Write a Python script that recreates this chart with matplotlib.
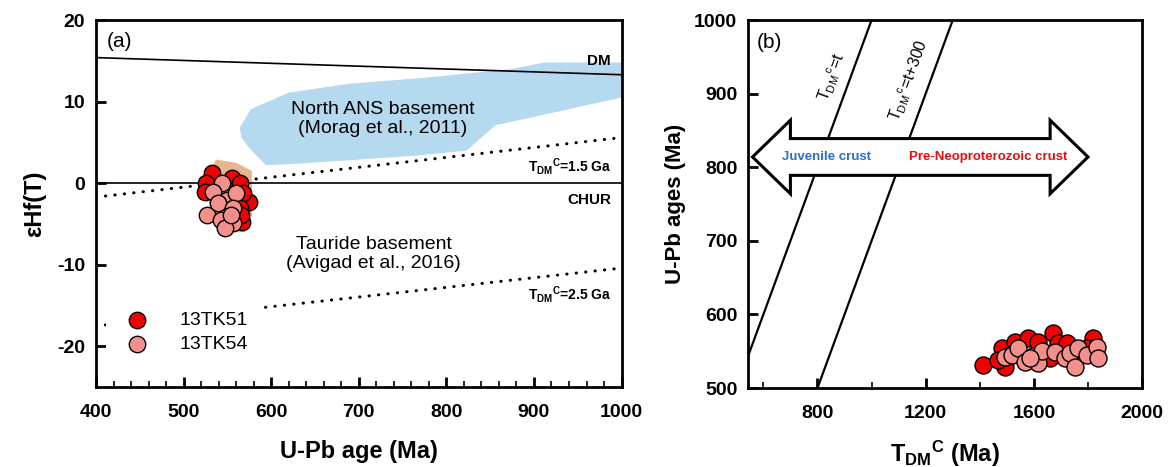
import matplotlib
matplotlib.use("Agg")
import matplotlib.pyplot as plt
from matplotlib.patches import Polygon
from matplotlib.ticker import MultipleLocator

plt.rcParams['font.family'] = ['Liberation Sans', 'DejaVu Sans']
plt.rcParams['mathtext.fontset'] = 'custom'
plt.rcParams['mathtext.rm'] = 'Liberation Sans'
plt.rcParams['mathtext.it'] = 'Liberation Sans:italic'
plt.rcParams['mathtext.bf'] = 'Liberation Sans:bold'
plt.rcParams['axes.unicode_minus'] = False

# ---- panel (a) data ----
age_51 = [532, 526, 555, 564, 575, 568, 564, 567, 566, 525]
ehf_51 = [1.2, 0.0, 0.7, 0.0, -2.3, -1.2, -3.0, -4.8, -3.9, -1.1]
age_54 = [544, 533, 550, 527, 543, 556, 560, 539, 556, 547, 554]
ehf_54 = [0.0, -1.1, -2.1, -3.9, -4.5, -4.9, -1.2, -2.4, -3.0, -5.5, -3.9]

dm_age = [400, 1000]
dm_ehf = [15.4, 13.3]
chur_age = [400, 1000]
chur_ehf = [0, 0]
t15_age = [400, 1000]
t15_ehf = [-1.7, 5.6]
t25_age = [400, 1000]
t25_ehf = [-17.5, -10.4]

ans_age = [564, 577, 620, 689, 772, 874, 912, 1000, 1000, 856, 823, 768, 632, 594, 575, 566]
ans_ehf = [6.8, 9.1, 11.1, 12.2, 12.9, 14.0, 14.8, 14.8, 10.5, 7.1, 4.0, 3.4, 2.4, 2.2, 4.3, 5.6]
tan_age = [537, 560, 578, 578, 570, 540, 528, 530]
tan_ehf = [2.9, 2.5, 1.5, -4.0, -6.0, -6.0, -2.0, 1.5]

# ---- panel (b) data ----
tdm_51 = [1411, 1481, 1493, 1467, 1530, 1578, 1615, 1670, 1689, 1722, 1819, 1796, 1750, 1660, 1511]
upb_51 = [531, 554, 529, 538, 562, 568, 562, 575, 561, 561, 568, 554, 545, 541, 545]
tdm_54 = [1493, 1519, 1541, 1567, 1596, 1615, 1630, 1678, 1715, 1733, 1752, 1763, 1796, 1833, 1837, 1585]
upb_54 = [542, 545, 554, 535, 543, 534, 551, 549, 541, 548, 529, 554, 545, 556, 541, 541]

t_line = [500, 1010]
arrow_left, arrow_right, arrow_y = 560, 1800, 814
shaft_half, head_half, head_len = 25, 50, 140

red = '#f20000'
pink = '#f4908c'

fig = plt.figure(figsize=(11.75, 4.67), dpi=100)
ax1 = fig.add_axes([0.0817, 0.171, 0.4473, 0.786])
ax2 = fig.add_axes([0.637, 0.169, 0.335, 0.788])

# ---- panel (a) ----
ax1.fill(ans_age, ans_ehf, color='#b5daf0', lw=0, zorder=1)
ax1.fill(tan_age, tan_ehf, color='#e8b68c', lw=0, zorder=1)
ax1.plot(dm_age, dm_ehf, color='black', lw=1.2, zorder=2)
ax1.plot(chur_age, chur_ehf, color='black', lw=1.2, zorder=2)
ax1.plot(t15_age, t15_ehf, color='black', lw=2.2, linestyle=(0, (0.1, 3.0)),
         dash_capstyle='round', zorder=2)
ax1.plot(t25_age, t25_ehf, color='black', lw=2.2, linestyle=(0, (0.1, 3.0)),
         dash_capstyle='round', zorder=2)
ax1.scatter(age_51, ehf_51, s=140, c=red, edgecolors='black', linewidths=1, zorder=3, label='13TK51')
ax1.scatter(age_54, ehf_54, s=140, c=pink, edgecolors='black', linewidths=1, zorder=4, label='13TK54')

ax1.set_xlim(400, 1000)
ax1.set_ylim(-25, 20)
ax1.xaxis.set_major_locator(MultipleLocator(100))
ax1.xaxis.set_minor_locator(MultipleLocator(20))
ax1.yaxis.set_major_locator(MultipleLocator(10))
ax1.set_xlabel('U-Pb age (Ma)', fontsize=17, fontweight='bold', labelpad=14)
ax1.set_ylabel('εHf(T)', fontsize=17, fontweight='bold', labelpad=8)

ax1.text(412, 17.4, '(a)', fontsize=15, va='center')
ax1.text(988, 15.0, 'DM', fontsize=11, fontweight='bold', ha='right', va='center')
ax1.text(988, -2.0, 'CHUR', fontsize=11, fontweight='bold', ha='right', va='center')
ax1.text(988, 2.0, r'T$_{\mathbf{DM}}$$^{\mathbf{C}}$=1.5 Ga', fontsize=10, fontweight='bold',
         ha='right', va='center')
ax1.text(988, -13.6, r'T$_{\mathbf{DM}}$$^{\mathbf{C}}$=2.5 Ga', fontsize=10, fontweight='bold',
         ha='right', va='center')
ax1.text(727, 7.9, 'North ANS basement\n(Morag et al., 2011)', fontsize=14, ha='center',
         va='center', linespacing=1.15)
ax1.text(717, -8.7, 'Tauride basement\n(Avigad et al., 2016)', fontsize=14, ha='center',
         va='center', linespacing=1.15)

leg = ax1.legend(loc='upper left', bbox_to_anchor=(0.0, 0.265), fontsize=14, frameon=True,
                 framealpha=1, edgecolor='none', facecolor='white', handletextpad=1.2,
                 borderpad=0.6, labelspacing=0.35, fancybox=False)
leg.set_zorder(5)

# ---- panel (b) ----
ax2.plot(t_line, t_line, color='black', lw=1.6, zorder=1)
ax2.plot([t + 300 for t in t_line], t_line, color='black', lw=1.6, zorder=1)

verts = [
    (arrow_left, arrow_y),
    (arrow_left + head_len, arrow_y + head_half),
    (arrow_left + head_len, arrow_y + shaft_half),
    (arrow_right - head_len, arrow_y + shaft_half),
    (arrow_right - head_len, arrow_y + head_half),
    (arrow_right, arrow_y),
    (arrow_right - head_len, arrow_y - head_half),
    (arrow_right - head_len, arrow_y - shaft_half),
    (arrow_left + head_len, arrow_y - shaft_half),
    (arrow_left + head_len, arrow_y - head_half),
]
ax2.add_patch(Polygon(verts, closed=True, facecolor='white', edgecolor='black', lw=2.2,
                      joinstyle='miter', zorder=2))
ax2.text(833, arrow_y, 'Juvenile crust', color='#2a6fc9', fontsize=9.5, fontweight='bold',
         ha='center', va='center', zorder=3)
ax2.text(1430, arrow_y, 'Pre-Neoproterozoic crust', color='#e01010', fontsize=9.5,
         fontweight='bold', ha='center', va='center', zorder=3)
ax2.text(856, 922, r'T$_{\mathrm{DM}}$$^{\mathrm{c}}$=t', fontsize=11.5, rotation=70,
         ha='center', va='center', zorder=3)
ax2.text(1141, 918, r'T$_{\mathrm{DM}}$$^{\mathrm{c}}$=t+300', fontsize=11.5, rotation=70,
         ha='center', va='center', zorder=3)

ax2.scatter(tdm_51, upb_51, s=150, c=red, edgecolors='black', linewidths=1, zorder=4)
ax2.scatter(tdm_54, upb_54, s=150, c=pink, edgecolors='black', linewidths=1, zorder=5)

ax2.set_xlim(545, 2000)
ax2.set_ylim(500, 1000)
ax2.xaxis.set_major_locator(MultipleLocator(400))
ax2.xaxis.set_minor_locator(MultipleLocator(200))
ax2.yaxis.set_major_locator(MultipleLocator(100))
ax2.set_xlabel(r'T$_{\mathbf{DM}}$$^{\mathbf{C}}$ (Ma)', fontsize=17, fontweight='bold', labelpad=12)
ax2.set_ylabel('U-Pb ages (Ma)', fontsize=16, fontweight='bold', labelpad=6)
ax2.text(0.02, 0.94, '(b)', transform=ax2.transAxes, fontsize=15, va='center')

for ax in (ax1, ax2):
    for sp in ax.spines.values():
        sp.set_linewidth(2)
    ax.tick_params(which='major', direction='in', length=7, width=2, labelsize=14)
    ax.tick_params(axis='x', which='major', pad=12)
    ax.tick_params(axis='y', which='major', pad=8)
    ax.tick_params(which='minor', direction='in', length=4, width=1.2)
    for lab in ax.get_xticklabels() + ax.get_yticklabels():
        lab.set_fontweight('bold')

fig.savefig('out.png', dpi=100)
